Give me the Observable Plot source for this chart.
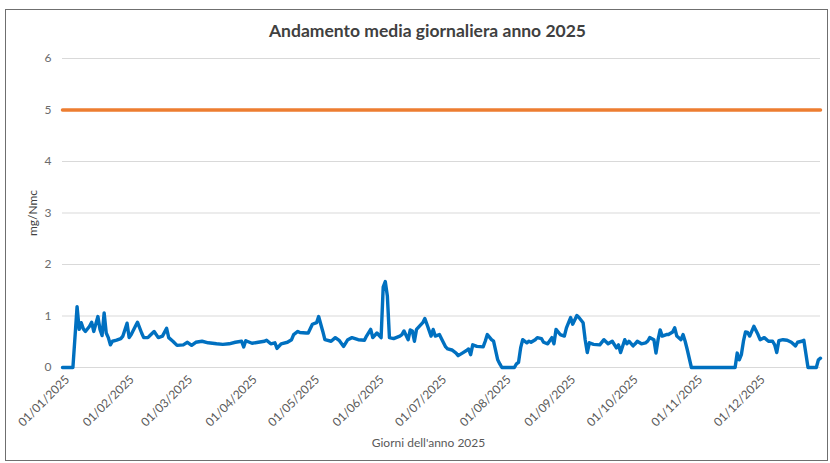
<!DOCTYPE html>
<html><head><meta charset="utf-8">
<script src="https://cdn.jsdelivr.net/npm/d3@7"></script>
<script src="https://cdn.jsdelivr.net/npm/@observablehq/plot@0.6"></script>
<style>body{margin:0;background:#fff;}</style>
</head><body><div id="chart"></div>
<script>
const title = "Andamento media giornaliera anno 2025";
const yLabel = "mg/Nmc";
const xLabel = "Giorni dell'anno 2025";
const dayOfYear = [0,5,7,8,9,10,11,13,14,15,17,18,19,20,21,22,23,24,26,28,29,31,32,33,35,36,38,39,41,42,44,46,48,50,51,53,55,58,60,62,64,67,70,74,77,80,83,86,87,88,91,
94,97,98,100,102,103,105,108,110,111,113,114,117,118,120,122,123,125,126,129,131,133,135,137,139,142,145,146,148,149,151,153,154,155,156,157,159,162,163,164,166,167,168,169,170,173,174,175,177,178,179,181,
182,184,185,187,189,190,192,194,195,196,197,199,202,203,204,206,207,209,210,211,217,218,219,220,221,223,224,225,227,228,230,231,233,235,236,237,239,241,242,244,245,247,248,250,251,252,253,255,258,260,262,264,266,267,268,270,271,272,274,
275,276,278,280,281,282,284,285,286,287,288,290,291,293,294,295,297,298,299,300,302,323,324,325,326,327,328,329,330,332,334,335,337,339,341,342,343,344,346,348,350,352,353,355,356,358,362,363,364];
const dailyMean = [0,0,1.18,0.74,0.87,0.75,0.70,0.80,0.88,0.70,0.99,0.74,0.62,1.06,0.67,0.58,0.44,0.51,0.53,0.56,0.61,0.86,0.58,0.64,0.80,0.88,0.67,0.58,0.58,0.62,0.70,0.58,0.61,0.76,0.58,0.51,0.43,0.44,0.49,0.43,0.49,0.51,0.48,0.46,0.45,0.46,0.49,0.51,0.40,0.52,0.47,
0.49,0.51,0.53,0.46,0.48,0.37,0.46,0.49,0.54,0.64,0.70,0.68,0.67,0.67,0.84,0.87,0.99,0.70,0.54,0.51,0.58,0.52,0.41,0.54,0.58,0.54,0.53,0.61,0.74,0.58,0.67,0.58,1.56,1.67,1.39,0.58,0.56,0.61,0.64,0.71,0.54,0.73,0.71,0.51,0.74,0.87,0.95,0.84,0.61,0.74,0.61,0.64,
0.56,0.40,0.36,0.34,0.28,0.23,0.28,0.33,0.36,0.25,0.44,0.41,0.40,0.51,0.64,0.54,0.51,0.15,0.07,0,0,0.07,0.10,0.38,0.54,0.48,0.51,0.49,0.54,0.58,0.56,0.49,0.46,0.58,0.46,0.74,0.64,0.61,0.77,0.97,0.84,1.01,0.97,0.87,0.54,0.29,0.48,0.45,0.44,0.54,0.46,0.51,0.38,0.44,0.29,0.54,0.46,0.51,0.42,
0.46,0.51,0.46,0.48,0.51,0.58,0.54,0.28,0.54,0.73,0.61,0.64,0.64,0.69,0.77,0.61,0.54,0.64,0.51,0.35,0,0,0.28,0.15,0.25,0.51,0.69,0.68,0.61,0.80,0.64,0.54,0.58,0.51,0.51,0.44,0.29,0.52,0.54,0.53,0.49,0.42,0.49,0.51,0.53,0,0,0.15,0.18];
const limitValue = 5;
const monthTicks = ["2025-01-01","2025-02-01","2025-03-01","2025-04-01","2025-05-01","2025-06-01","2025-07-01","2025-08-01","2025-09-01","2025-10-01","2025-11-01","2025-12-01"];
const yTicks = [0,1,2,3,4,5,6];

const start = new Date(Date.UTC(2025,0,1));
const end = new Date(Date.UTC(2025,11,31));
const data = dayOfYear.map((d,i)=>({date: d3.utcDay.offset(start,d), value: dailyMean[i]}));
const limitData = [{date: start, value: limitValue}, {date: end, value: limitValue}];
const fmt = d3.utcFormat("%d/%m/%Y");

const chart = Plot.plot({
  width: 830, height: 463,
  marginLeft: 62, marginRight: 10, marginTop: 58, marginBottom: 96,
  style: {fontFamily: "Lato", background: "white", overflow: "visible"},
  x: {type: "utc", domain: [start, end]},
  y: {domain: [0,6]},
  marks: [
    Plot.gridY(yTicks, {stroke: "#d9d9d9", strokeOpacity: 1, strokeWidth: 1}),
    Plot.axisY(yTicks, {tickSize: 0, tickPadding: 11, tickFormat: d => String(d), fill: "#6b6b6b", fontSize: 12, label: null}),
    Plot.axisX(monthTicks.map(s => new Date(s)), {tickSize: 0, tickPadding: 6, tickRotate: -45, tickFormat: fmt, fill: "#595959", fontSize: 12, label: null, dx: 5, dy: 4}),
    Plot.line(limitData, {x: "date", y: "value", stroke: "#ED7D31", strokeWidth: 3.5}),
    Plot.line(data, {x: "date", y: "value", stroke: "#0070C0", strokeWidth: 3.4, strokeLinejoin: "round"}),
    Plot.text([title], {frameAnchor: "top", lineAnchor: "middle", dx: -14, dy: -27, fontSize: 17.5, fontWeight: "bold", fill: "#404040"}),
    Plot.text([yLabel], {frameAnchor: "left", textAnchor: "middle", lineAnchor: "middle", dx: -29, rotate: -90, fontSize: 12, fill: "#404040"}),
    Plot.text([xLabel], {frameAnchor: "bottom", lineAnchor: "middle", dx: -13, dy: 76, fontSize: 12, fill: "#595959"})
  ]
});
d3.select(chart).append("rect").attr("x", 5.5).attr("y", 9.5).attr("width", 822).attr("height", 451)
  .attr("fill", "none").attr("stroke", "#6f6f6f").attr("stroke-width", 1);
document.getElementById("chart").appendChild(chart);
</script>
</body></html>
